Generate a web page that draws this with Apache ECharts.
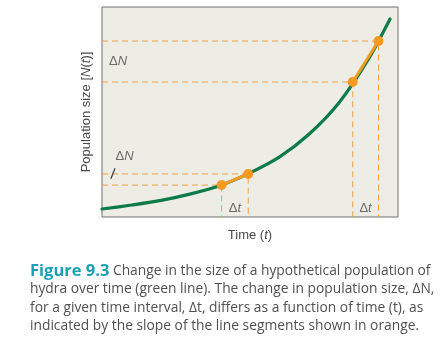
<!DOCTYPE html>
<html>
<head>
<meta charset="utf-8">
<script src="https://cdn.jsdelivr.net/npm/echarts@6/dist/echarts.min.js"></script>
<style>
  html, body { margin: 0; padding: 0; background: #ffffff; }
  #chart { width: 444px; height: 347px; }
</style>
</head>
<body>
<div id="chart"></div>
<script>
// Population N(t) over time, arbitrary units on both axes
var timePoints = [0, 10, 20, 30, 40, 50, 60, 70, 80, 90, 97.3];
var popSizes   = [3.8, 5.7, 7.9, 11.0, 15.0, 21.0, 28.6, 39.5, 54.3, 75.2, 94.3];

// Two equal time intervals, early and late: [start, end]
var intervalTimes = [[40.4, 49.4], [84.7, 93.4]];
var intervalSizes = [[15.2, 20.5], [64.3, 83.8]];

var captionLines = [
  ['Figure 9.3', ' Change in the size of a hypothetical population of'],
  ['', 'hydra over time (green line). The change in population size, \u0394N,'],
  ['', 'for a given time interval, \u0394t, differs as a function of time (t), as'],
  ['', 'indicated by the slope of the line segments shown in orange.']
];

var GREEN = '#0d7a47';
var ORANGE = '#f59a22';
var DASH = '#f0a040';
var TEXT = '#4a4a4a';
var PLOT_FONT = '"Liberation Sans", Arial, sans-serif';
var CAP_FONT = '"Open Sans", "Noto Sans", sans-serif';

var chart = echarts.init(document.getElementById('chart'), null, { renderer: 'canvas' });

var curve = timePoints.map(function (t, i) { return [t, popSizes[i]]; });

var series = [];

// dashed guides from each interval endpoint to both axes
intervalTimes.forEach(function (ts, k) {
  ts.forEach(function (t, j) {
    var n = intervalSizes[k][j];
    series.push({
      type: 'line', silent: true, symbol: 'none', z: 1,
      data: [[0, n], [t, n], [t, 0]],
      lineStyle: { color: DASH, width: 1, type: [6, 4] }
    });
  });
});

// the population curve
series.push({
  type: 'line', smooth: 0.3, symbol: 'none', z: 3,
  data: curve,
  lineStyle: { color: GREEN, width: 3.2, cap: 'round' }
});

// orange secant segments with endpoint dots
intervalTimes.forEach(function (ts, k) {
  series.push({
    type: 'line', z: 4, symbol: 'circle', symbolSize: 10,
    data: [[ts[0], intervalSizes[k][0]], [ts[1], intervalSizes[k][1]]],
    lineStyle: { color: ORANGE, width: 3 },
    itemStyle: { color: ORANGE }
  });
});

var rich = {
  r: { fontFamily: PLOT_FONT, fontSize: 13, color: TEXT },
  i: { fontFamily: PLOT_FONT, fontSize: 13, color: TEXT, fontStyle: 'italic' }
};

// Δt labels centred under each interval, ΔN labels beside the axis
var labelData = [];
intervalTimes.forEach(function (ts) {
  labelData.push({ value: [(ts[0] + ts[1]) / 2, 4.2], label: { formatter: '{r|\u0394}{i|t}' } });
});
var late = intervalSizes[1];
labelData.push({ value: [5.4, (late[0] + late[1]) / 2], label: { formatter: '{r|\u0394}{i|N}' } });
labelData.push({ value: [7.6, 28.8], label: { formatter: '{r|\u0394}{i|N}' } });

series.push({
  type: 'scatter', z: 5, symbolSize: 0, silent: true,
  data: labelData,
  label: { show: true, position: 'inside', rich: rich }
});

// short leader from the early ΔN label down to its interval
series.push({
  type: 'line', symbol: 'none', z: 5, silent: true,
  data: [[3.0, 18.2], [4.4, 23.2]],
  lineStyle: { color: '#444', width: 1.3 }
});

var graphics = [
  {
    type: 'text', x: 86, y: 112, rotation: Math.PI / 2,
    style: {
      text: 'Population size [{i|N}({i|t})]',
      font: '13px ' + PLOT_FONT, fill: TEXT, align: 'center', verticalAlign: 'middle',
      rich: { i: { fontStyle: 'italic', fontFamily: PLOT_FONT, fontSize: 13, fill: TEXT } }
    }
  },
  {
    type: 'text', x: 250, y: 235,
    style: {
      text: 'Time ({i|t})',
      font: '13px ' + PLOT_FONT, fill: TEXT, align: 'center', verticalAlign: 'middle',
      rich: { i: { fontStyle: 'italic', fontFamily: PLOT_FONT, fontSize: 13, fill: TEXT } }
    }
  }
];

var lineY = [271, 289.5, 308, 326.5];
captionLines.forEach(function (ln, idx) {
  var txt = (ln[0] ? '{b|' + ln[0] + '}' : '') + ln[1];
  graphics.push({
    type: 'text', x: 30, y: lineY[idx],
    style: {
      text: txt,
      font: '13.8px ' + CAP_FONT, fill: '#505050', align: 'left', verticalAlign: 'middle',
      rich: {
        b: { fontFamily: CAP_FONT, fontSize: 16.5, fontWeight: 'bold', fill: '#1ba1b2' }
      }
    }
  });
});

chart.setOption({
  animation: false,
  backgroundColor: '#ffffff',
  grid: {
    left: 102, top: 7, width: 296, height: 210,
    show: true, backgroundColor: '#eeede5', borderColor: '#6e6e6e', borderWidth: 1
  },
  xAxis: {
    type: 'value', min: 0, max: 100,
    axisLine: { show: false }, axisTick: { show: false },
    axisLabel: { show: false }, splitLine: { show: false }
  },
  yAxis: {
    type: 'value', min: 0, max: 100,
    axisLine: { show: false }, axisTick: { show: false },
    axisLabel: { show: false }, splitLine: { show: false }
  },
  series: series,
  graphic: graphics
});
</script>
</body>
</html>
